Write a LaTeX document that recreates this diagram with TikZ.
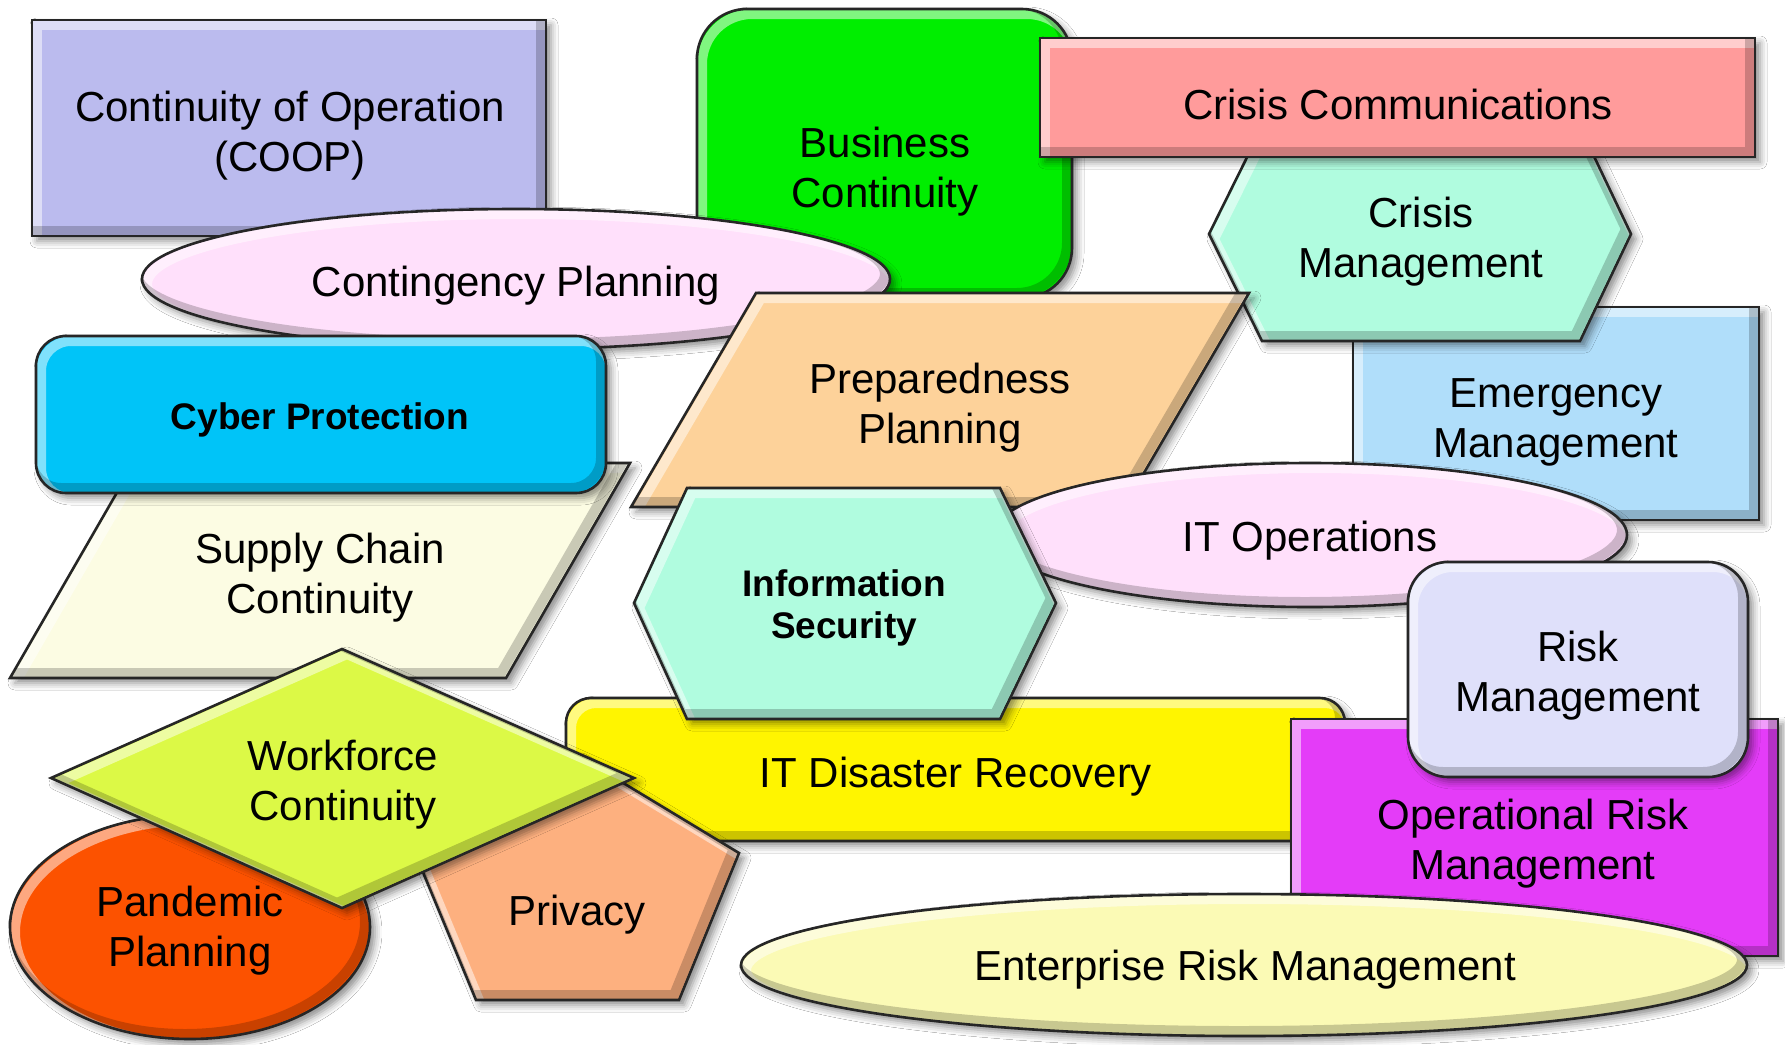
\documentclass[tikz,border=0pt]{standalone}
\usepackage{fontspec}
\setmainfont{Liberation Sans}
\usetikzlibrary{shadows.blur}
\definecolor{cCoop}{HTML}{BBBBEE}
\definecolor{cBC}{HTML}{00EE00}
\definecolor{cCComm}{HTML}{FF9B9B}
\definecolor{cMint}{HTML}{B0FCDF}
\definecolor{cEmer}{HTML}{B0DEFA}
\definecolor{cPink}{HTML}{FFE0FB}
\definecolor{cCyber}{HTML}{00C4F8}
\definecolor{cSupply}{HTML}{FCFCE3}
\definecolor{cPrep}{HTML}{FDD29A}
\definecolor{cITDR}{HTML}{FFF500}
\definecolor{cOpRisk}{HTML}{E43CF8}
\definecolor{cRisk}{HTML}{DFE0FA}
\definecolor{cWork}{HTML}{DCF946}
\definecolor{cPand}{HTML}{FC5200}
\definecolor{cPriv}{HTML}{FDB07F}
\definecolor{cERM}{HTML}{FBFAB5}
\newcommand\bvshape[2]{%
  \fill[fill=#1, blur shadow={shadow xshift=5pt, shadow yshift=-5pt, shadow blur radius=7pt, shadow opacity=45}] #2;
  \begin{scope}
    \clip #2;
    \draw[white, opacity=.5, line width=10pt, xshift=5pt, yshift=-5pt] #2;
    \draw[black, opacity=.2, line width=10pt, xshift=-5pt, yshift=5pt] #2;
  \end{scope}
  \draw[line width=2.6pt, black!85] #2;
}
\tikzset{
  lbl/.style={align=center, inner sep=0pt, font=\fontsize{42}{50}\selectfont},
  blbl/.style={align=center, inner sep=0pt, font=\fontsize{37}{42}\selectfont\bfseries}
}
\begin{document}
\begin{tikzpicture}[x=1pt,y=-1pt]
\useasboundingbox[fill=white] (0,0) rectangle (1785,1044);
\bvshape{cCoop}{(32,20) rectangle (546,236)}
\node[lbl] (coop) at (290,136) {Continuity of Operation\\(COOP)};
\bvshape{cBC}{(697,9) [rounded corners=50pt] rectangle (1072,298)}
\node[lbl] (bc) at (885,172) {Business\\Continuity};
\bvshape{cEmer}{(1353,307) rectangle (1759,520)}
\node[lbl] (emer) at (1556,422) {Emergency\\Management};
\bvshape{cMint}{(1209,234) -- (1262,127) -- (1580,127) -- (1631,234) -- (1580,341) -- (1262,341) -- cycle}
\node[lbl] (cmgmt) at (1421,242) {Crisis\\Management};
\bvshape{cCComm}{(1040,38) rectangle (1755,157)}
\node[lbl] (ccomm) at (1398,104) {Crisis Communications};
\bvshape{cPink}{(516,279) ellipse [x radius=374pt, y radius=70pt]}
\node[lbl] (cont) at (516,286) {Contingency Planning};
\bvshape{cSupply}{(134,463) -- (630,463) -- (506,678) -- (10,678) -- cycle}
\node[lbl] (supply) at (320,578) {Supply Chain\\Continuity};
\bvshape{cCyber}{(36,336) [rounded corners=30pt] rectangle (606,493)}
\node[blbl] (cyber) at (320,420) {Cyber Protection};
\bvshape{cPrep}{(756,293) -- (1249,293) -- (1124,507) -- (631,507) -- cycle}
\node[lbl] (prep) at (940,408) {Preparedness\\Planning};
\bvshape{cPink}{(1310,535) ellipse [x radius=317pt, y radius=72pt]}
\node[lbl] (itops) at (1310,541) {IT Operations};
\bvshape{cITDR}{(566,698) [rounded corners=25pt] rectangle (1345,841)}
\node[lbl] (itdr) at (956,777) {IT Disaster Recovery};
\bvshape{cMint}{(634,603) -- (687,488) -- (1000,488) -- (1056,603) -- (1000,719) -- (687,719) -- cycle}
\node[blbl] (infosec) at (844,608) {Information\\Security};
\bvshape{cOpRisk}{(1291,719) rectangle (1778,956)}
\node[lbl] (oprisk) at (1533,844) {Operational Risk\\Management};
\bvshape{cRisk}{(1408,562) [rounded corners=40pt] rectangle (1748,777)}
\node[lbl] (risk) at (1578,676) {Risk\\Management};
\bvshape{cPand}{(190,927) ellipse [x radius=180pt, y radius=112pt]}
\node[lbl] (pand) at (190,931) {Pandemic\\Planning};
\bvshape{cPriv}{(577,755) -- (739,853) -- (679,1000) -- (476,1000) -- (415,853) -- cycle}
\node[lbl] (priv) at (577,915) {Privacy};
\bvshape{cWork}{(342,649) -- (634,778) -- (342,908) -- (51,778) -- cycle}
\node[lbl] (work) at (343,785) {Workforce\\Continuity};
\bvshape{cERM}{(1244,965) ellipse [x radius=503pt, y radius=71pt]}
\node[lbl] (erm) at (1245,970) {Enterprise Risk Management};
\end{tikzpicture}
\end{document}
